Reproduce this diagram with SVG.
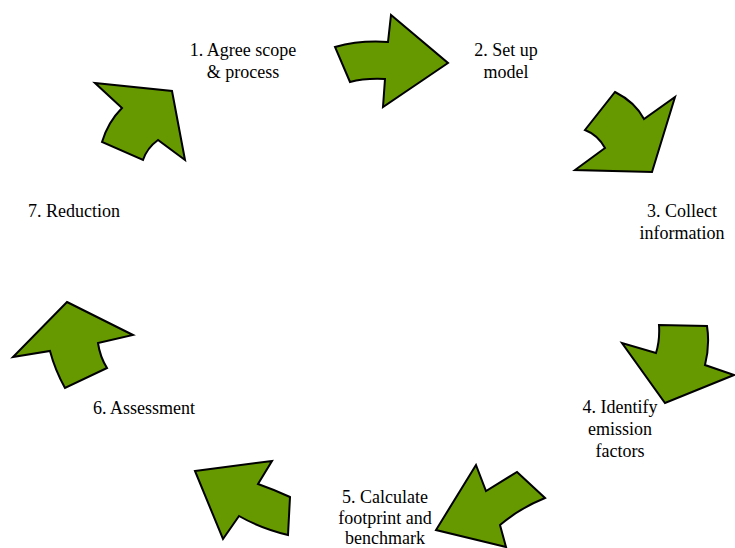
<svg xmlns="http://www.w3.org/2000/svg" width="735" height="548" viewBox="0 0 735 548">
<style>
.arr{fill:#669900;stroke:#000;stroke-width:2;stroke-linejoin:miter}
.t{font-family:"Liberation Serif","Times New Roman",serif;font-size:18px;fill:#000;text-anchor:middle}
</style>
<rect width="735" height="548" fill="#fff"/>
<g id="connectors">
<path id="a1" class="arr" d="M335,47 Q360,40 388,42 L391,15 L448,63 L383,107 L385,79 Q365,78 350,82 Z"/>
<path id="a2" class="arr" d="M615,92 Q635,102 644,119 L675,97 L652,172 L575,170 L605,148 Q598,135 585,130 Z"/>
<path id="a3" class="arr" d="M659,325 L707,326 Q710,345 705,365 L734,375 L665,403 L622,343 L656,353 Q660,340 659,325 Z"/>
<path id="a4" class="arr" d="M476,465 L486,491 L517,472 L545,498 Q520,508 500,525 L506,547 L436,530 Z"/>
<path id="a5" class="arr" d="M195,471 L272,461 L258,484 Q275,490 290,497 L288,535 Q260,528 239,516 L223,539 Z"/>
<path id="a6" class="arr" d="M67,302 L133,335 L98,343 Q100,357 107,368 L65,388 Q55,370 50,351 L13,357 Z"/>
<path id="a7" class="arr" d="M95,83 L172,91 L185,160 L158,140 Q147,148 143,160 L102,142 Q108,122 122,108 Z"/>
</g>
<g id="n1"><text class="t" x="243" y="56">1. Agree scope</text><text class="t" x="243" y="78">&amp; process</text></g>
<g id="n2"><text class="t" x="506" y="56">2. Set up</text><text class="t" x="506" y="78">model</text></g>
<g id="n3"><text class="t" x="682" y="217">3. Collect</text><text class="t" x="682" y="239">information</text></g>
<g id="n4"><text class="t" x="620" y="413">4. Identify</text><text class="t" x="620" y="435">emission</text><text class="t" x="620" y="457">factors</text></g>
<g id="n5"><text class="t" x="385" y="503">5. Calculate</text><text class="t" x="385" y="524">footprint and</text><text class="t" x="385" y="544">benchmark</text></g>
<g id="n6"><text class="t" x="144" y="414">6. Assessment</text></g>
<g id="n7"><text class="t" x="74" y="217">7. Reduction</text></g>
</svg>
